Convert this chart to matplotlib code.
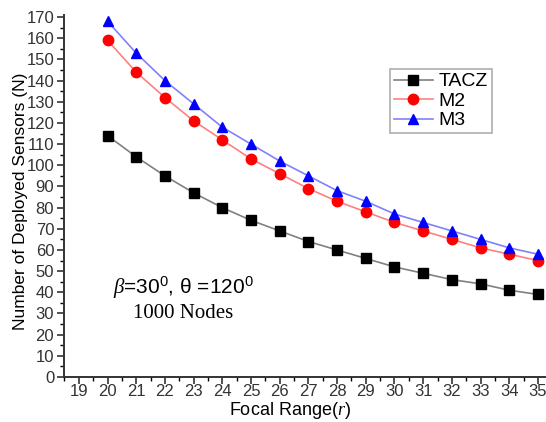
import matplotlib
matplotlib.use('Agg')
import matplotlib.pyplot as plt
from matplotlib.ticker import MultipleLocator

plt.rcParams['font.family'] = ['Liberation Sans', 'DejaVu Sans']
plt.rcParams['mathtext.fontset'] = 'custom'
plt.rcParams['mathtext.rm'] = 'Liberation Sans'
plt.rcParams['mathtext.it'] = 'Liberation Serif:italic'

focal_range = [20, 21, 22, 23, 24, 25, 26, 27, 28, 29, 30, 31, 32, 33, 34, 35]
tacz = [114, 104, 95, 87, 80, 74, 69, 64, 60, 56, 52, 49, 46, 44, 41, 39]
m2 = [159, 144, 132, 121, 112, 103, 96, 89, 83, 78, 73, 69, 65, 61, 58, 55]
m3 = [168, 153, 140, 129, 118, 110, 102, 95, 88, 83, 77, 73, 69, 65, 61, 58]

fig = plt.figure(figsize=(5.46, 4.22), dpi=100)
ax = fig.add_axes([0.117, 0.1066, 0.883, 0.858])

ax.plot(focal_range, tacz, color='#808080', lw=1.2, marker='s', ms=6.5,
        mfc='black', mec='black', label='TACZ')
ax.plot(focal_range, m2, color='#ff8080', lw=1.2, marker='o', ms=7.5,
        mfc='red', mec='red', label='M2')
ax.plot(focal_range, m3, color='#8080ff', lw=1.2, marker='^', ms=7.5,
        mfc='blue', mec='blue', label='M3')

ax.set_xlim(18.48, 35.28)
ax.set_ylim(0, 171)
ax.xaxis.set_major_locator(MultipleLocator(1))
ax.xaxis.set_minor_locator(MultipleLocator(0.5))
ax.yaxis.set_major_locator(MultipleLocator(10))
ax.yaxis.set_minor_locator(MultipleLocator(5))
ax.tick_params(which='major', direction='out', length=5, width=1.2,
               labelsize=12, colors='#333333')
ax.tick_params(which='minor', direction='out', length=3, width=1.0)
ax.tick_params(axis='x', which='major', pad=0)
ax.tick_params(axis='y', which='major', pad=2)

for s in ['top', 'right']:
    ax.spines[s].set_visible(False)
for s in ['left', 'bottom']:
    ax.spines[s].set_linewidth(1.4)
    ax.spines[s].set_color('#333333')

ax.set_xlabel('Focal Range($\\mathit{r}$)', fontsize=13, va='center')
ax.xaxis.set_label_coords(0.47, -0.092)
ax.set_ylabel('Number of Deployed Sensors (N)', fontsize=12.5, va='center')
ax.yaxis.set_label_coords(-0.091, 0.486)

ax.text(0.247, 0.245, r'$\beta$=30$^0$, θ =120$^0$', transform=ax.transAxes,
        fontsize=15, ha='center', va='center')
ax.text(0.247, 0.175, '1000 Nodes', transform=ax.transAxes,
        fontsize=15, ha='center', va='center', family='Liberation Serif')

leg = ax.legend(loc='upper left', bbox_to_anchor=(0.676, 0.851), fontsize=14,
                frameon=True, fancybox=False, edgecolor='#999999',
                handlelength=2.0, borderpad=0.2, labelspacing=0.1,
                handletextpad=0.3, borderaxespad=0)
leg.get_frame().set_linewidth(1.2)

fig.savefig('out.png', dpi=100)
